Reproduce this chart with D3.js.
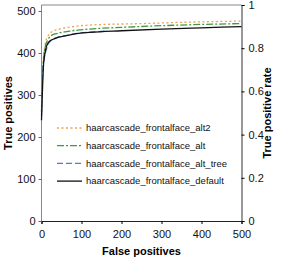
<!DOCTYPE html>
<html>
<head>
<meta charset="utf-8">
<script src="https://cdn.jsdelivr.net/npm/d3@7"></script>
<style>
	body { margin: 0; background: #fff; }
	text { font-family: "Liberation Sans", Arial, sans-serif; }
</style>
</head>
<body>
<div id="chart"></div>
<script>

const seriesNames = [
	"haarcascade_frontalface_alt2",
	"haarcascade_frontalface_alt",
	"haarcascade_frontalface_alt_tree",
	"haarcascade_frontalface_default"
];

// [false positives, true positives]
const alt2Values = [[0,270],[3,360],[6,400],[10,425],[16,440],[25,450],[45,457],[80,463],[130,467],[250,470],[350,473],[500,476]];
const altValues = [[0,260],[3,350],[6,395],[10,418],[15,430],[25,442],[40,447],[70,452],[120,457],[200,461],[300,465],[400,468],[500,470]];
const altTreeValues = [[0,250],[2,330],[5,372],[8,395],[11,405],[16,420],[25,431],[40,437],[70,443],[100,448],[130,450],[160,452]];
const defaultValues = [[0,240],[2,300],[5,372],[8,395],[12,415],[20,428],[35,435],[55,440],[80,445],[120,449],[200,453],[300,457],[400,460],[500,463]];

const xTicks = [0,100,200,300,400,500];
const yLeftTicks = [0,100,200,300,400,500];
const yRightTicks = [0,0.2,0.4,0.6,0.8,1];

const W = 283, H = 259;

const svg = d3.select("#chart").append("svg")
	.attr("width", W)
	.attr("height", H);

const x = d3.scaleLinear().domain([0,500]).range([41.5,241.5]);
const yL = d3.scaleLinear().domain([0,500]).range([221,11]);
const yR = d3.scaleLinear().domain([0,1]).range([221,5]);

const styles = [
	{color:"#f0a050", dash:"2,2.5"},
	{color:"#3f9a3f", dash:"7,2,2,2"},
	{color:"#5577d8", dash:"6,3"},
	{color:"#111111", dash:null}
];
const data = [alt2Values, altValues, altTreeValues, defaultValues];

// top border
svg.append("line")
	.attr("x1", x(0)).attr("x2", x(500))
	.attr("y1", yR(1)).attr("y2", yR(1))
	.attr("stroke", "#888");

const axisFont = g => g.selectAll("text")
	.style("font-size","11px")
	.style("font-family","'Liberation Sans', Arial, sans-serif")
	.attr("fill","#111");

// left axis
svg.append("g")
	.attr("transform", `translate(${x(0)},0)`)
	.call(d3.axisLeft(yL).tickValues(yLeftTicks).tickSize(3).tickPadding(3))
	.call(g => g.select(".domain").attr("d", `M-0,${yR(0)}V${yR(1)}`).attr("stroke","#888"))
	.call(g => g.selectAll(".tick line").attr("stroke","#666"))
	.call(axisFont);

// right axis
svg.append("g")
	.attr("transform", `translate(${x(500)},0)`)
	.call(d3.axisRight(yR).tickValues(yRightTicks).tickSize(3).tickPadding(4).tickFormat(d3.format("")))
	.call(g => g.select(".domain").attr("stroke","#333"))
	.call(axisFont);

// bottom axis
svg.append("g")
	.attr("transform", `translate(0,${yR(0)})`)
	.call(d3.axisBottom(x).tickValues(xTicks).tickSize(3).tickPadding(6))
	.call(g => g.select(".domain").attr("stroke","#222"))
	.call(axisFont);

const line = d3.line()
	.x(d => x(d[0]))
	.y(d => yL(d[1]))
	.curve(d3.curveMonotoneX);

svg.selectAll(".curve")
	.data(data)
	.enter()
	.append("path")
	.attr("class","curve")
	.attr("d", line)
	.attr("fill","none")
	.attr("stroke", (d,i) => styles[i].color)
	.attr("stroke-width", 1.3)
	.attr("stroke-dasharray", (d,i) => styles[i].dash);

// legend
const legend = svg.selectAll(".leg")
	.data(seriesNames)
	.enter()
	.append("g")
	.attr("class","leg")
	.attr("transform", (d,i) => `translate(57,${128 + i*17.7})`);

legend.append("line")
	.attr("x1",0).attr("x2",25)
	.attr("stroke", (d,i) => styles[i].color)
	.attr("stroke-width", 1.3)
	.attr("stroke-dasharray", (d,i) => styles[i].dash);

legend.append("text")
	.attr("x",29)
	.attr("dy","0.35em")
	.style("font-size","9.5px")
	.attr("fill","#111")
	.text(d => d);

// axis titles
svg.append("text")
	.attr("x", 141.5).attr("y", 255)
	.attr("text-anchor","middle")
	.style("font-size","11px")
	.style("font-weight","bold")
	.text("False positives");

svg.append("text")
	.attr("transform", "translate(12,113) rotate(-90)")
	.attr("text-anchor","middle")
	.style("font-size","11px")
	.style("font-weight","bold")
	.text("True positives");

svg.append("text")
	.attr("transform", "translate(271,113) rotate(-90)")
	.attr("text-anchor","middle")
	.style("font-size","11px")
	.style("font-weight","bold")
	.text("True positive rate");

</script>
</body>
</html>
